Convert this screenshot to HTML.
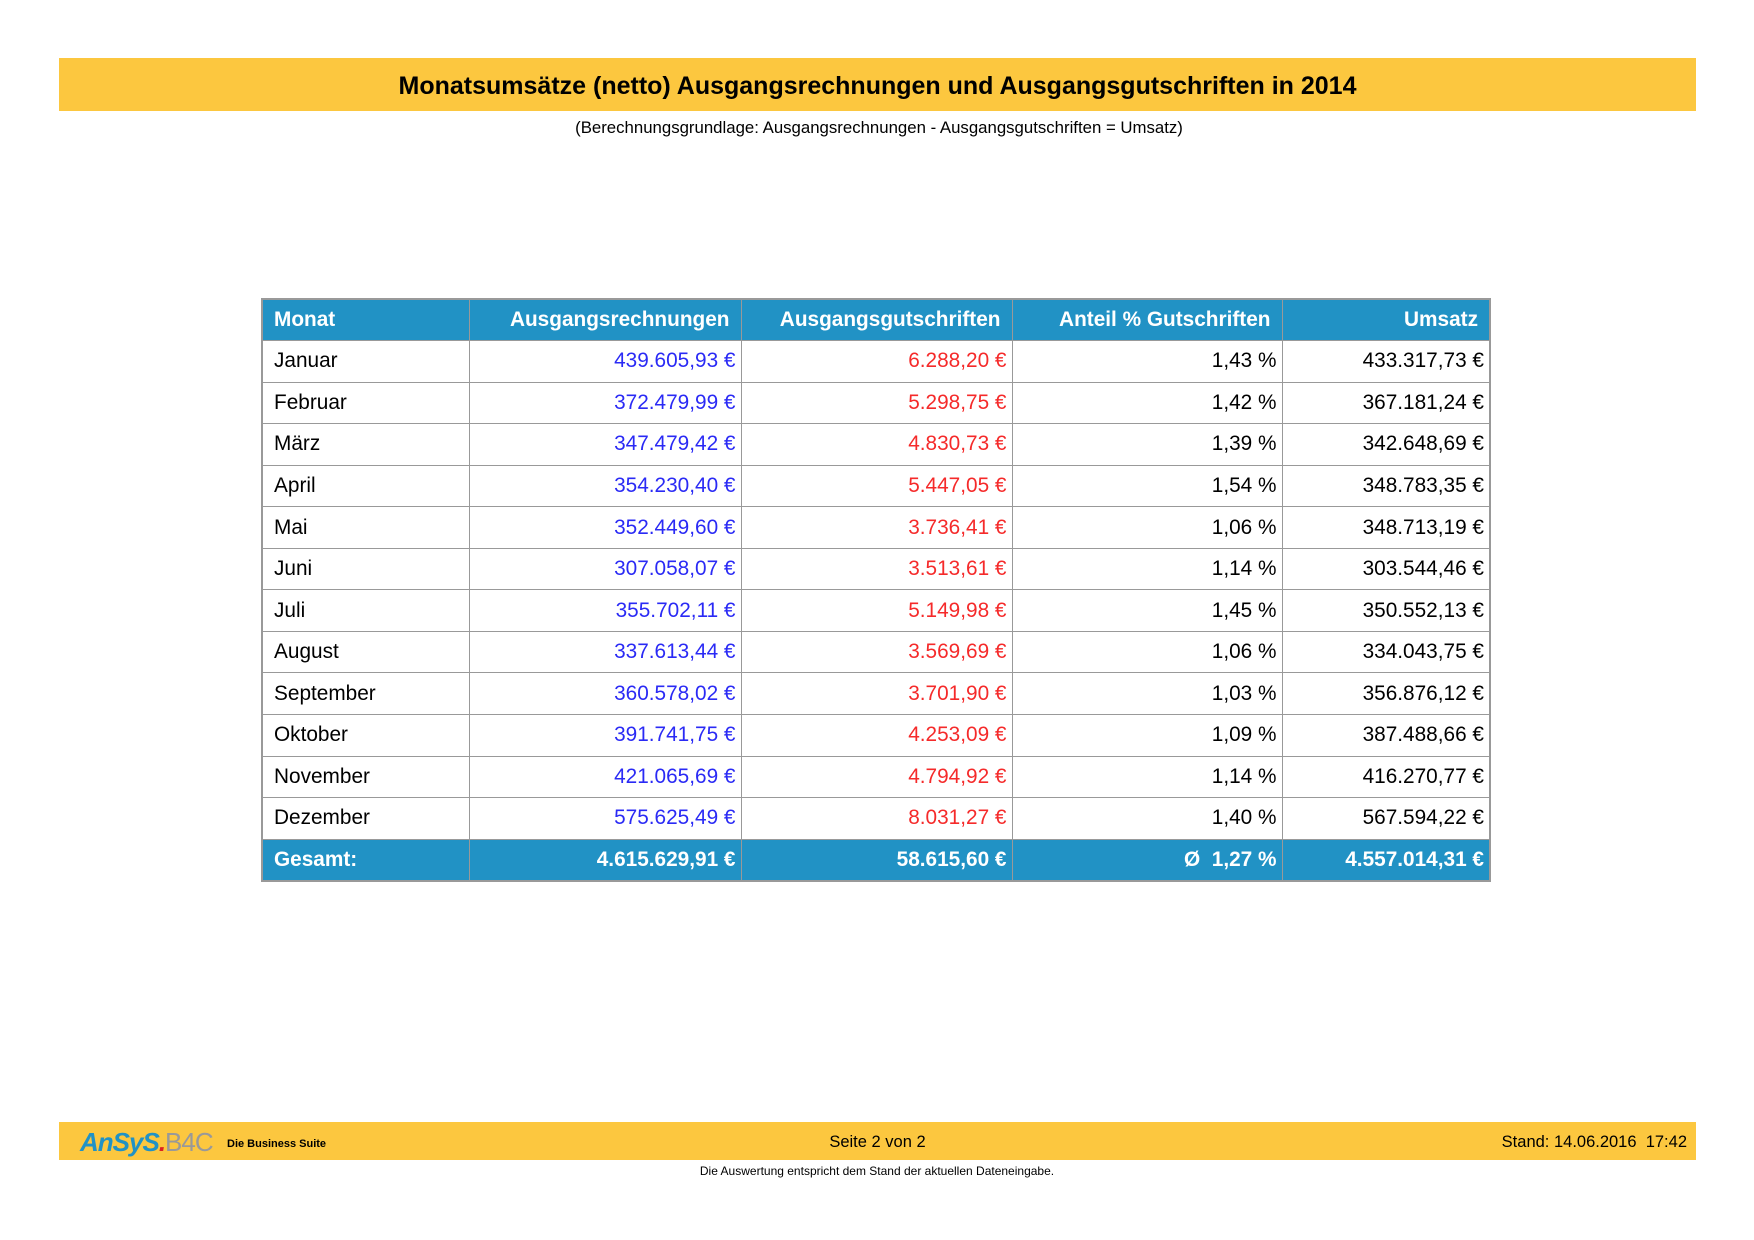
<!DOCTYPE html>
<html><head><meta charset="utf-8"><style>
body{margin:0;width:1754px;height:1240px;background:#fff;font-family:"Liberation Sans",Arial,sans-serif;position:relative;overflow:hidden}
.bar{position:absolute;left:59px;width:1637px;background:#fcc73f}
#t{top:58px;height:53px;font-weight:bold;font-size:25px;text-align:center;line-height:56px}
#s{position:absolute;top:118px;left:0;width:1758px;text-align:center;font-size:16.8px}
table{position:absolute;left:261px;top:298px;border-collapse:collapse;border:2px solid #999;font-size:20.8px}
td{border:1px solid #999;height:41.55px;padding:0 5px 0 11px;text-align:right;box-sizing:border-box}
td:first-child{text-align:left}
tr.h td{background:#2192c5;color:#fff;font-weight:bold;padding-right:11px}
tr.h td:first-child{padding-right:5px}
tr.g td{background:#2192c5;color:#fff;font-weight:bold}
.b{color:#2a2af5}.r{color:#f52a2a}
#f{top:1122px;height:38px;font-size:16.5px;line-height:40px}
#n{position:absolute;top:1164px;left:0;width:1754px;text-align:center;font-size:12px}
</style></head><body>
<div class="bar" id="t">Monatsumsätze (netto) Ausgangsrechnungen und Ausgangsgutschriften in 2014</div>
<div id="s">(Berechnungsgrundlage: Ausgangsrechnungen - Ausgangsgutschriften = Umsatz)</div>
<table>
<colgroup><col style="width:207px"><col style="width:272px"><col style="width:271px"><col style="width:270px"><col style="width:208px"></colgroup>
<tr class="h"><td>Monat</td><td>Ausgangsrechnungen</td><td>Ausgangsgutschriften</td><td>Anteil % Gutschriften</td><td>Umsatz</td></tr>
<tr><td>Januar</td><td class="b">439.605,93 €</td><td class="r">6.288,20 €</td><td>1,43 %</td><td>433.317,73 €</td></tr>
<tr><td>Februar</td><td class="b">372.479,99 €</td><td class="r">5.298,75 €</td><td>1,42 %</td><td>367.181,24 €</td></tr>
<tr><td>März</td><td class="b">347.479,42 €</td><td class="r">4.830,73 €</td><td>1,39 %</td><td>342.648,69 €</td></tr>
<tr><td>April</td><td class="b">354.230,40 €</td><td class="r">5.447,05 €</td><td>1,54 %</td><td>348.783,35 €</td></tr>
<tr><td>Mai</td><td class="b">352.449,60 €</td><td class="r">3.736,41 €</td><td>1,06 %</td><td>348.713,19 €</td></tr>
<tr><td>Juni</td><td class="b">307.058,07 €</td><td class="r">3.513,61 €</td><td>1,14 %</td><td>303.544,46 €</td></tr>
<tr><td>Juli</td><td class="b">355.702,11 €</td><td class="r">5.149,98 €</td><td>1,45 %</td><td>350.552,13 €</td></tr>
<tr><td>August</td><td class="b">337.613,44 €</td><td class="r">3.569,69 €</td><td>1,06 %</td><td>334.043,75 €</td></tr>
<tr><td>September</td><td class="b">360.578,02 €</td><td class="r">3.701,90 €</td><td>1,03 %</td><td>356.876,12 €</td></tr>
<tr><td>Oktober</td><td class="b">391.741,75 €</td><td class="r">4.253,09 €</td><td>1,09 %</td><td>387.488,66 €</td></tr>
<tr><td>November</td><td class="b">421.065,69 €</td><td class="r">4.794,92 €</td><td>1,14 %</td><td>416.270,77 €</td></tr>
<tr><td>Dezember</td><td class="b">575.625,49 €</td><td class="r">8.031,27 €</td><td>1,40 %</td><td>567.594,22 €</td></tr>
<tr class="g"><td>Gesamt:</td><td>4.615.629,91 €</td><td>58.615,60 €</td><td>Ø&nbsp; 1,27 %</td><td>4.557.014,31 €</td></tr>
</table>
<div class="bar" id="f">
<span style="position:absolute;left:21px;top:0;font-size:26px;font-weight:bold;font-style:italic;color:#2192c5;letter-spacing:-1px">AnSyS<span style="color:#d22">.</span><span style="color:#999;font-style:normal;font-weight:normal">B4C</span></span>
<span style="position:absolute;left:168px;top:2px;font-size:11px;font-weight:bold">Die Business Suite</span>
<span style="position:absolute;left:0;width:1637px;text-align:center">Seite 2 von 2</span>
<span style="position:absolute;right:9px">Stand: 14.06.2016&nbsp; 17:42</span>
</div>
<div id="n">Die Auswertung entspricht dem Stand der aktuellen Dateneingabe.</div>
</body></html>
